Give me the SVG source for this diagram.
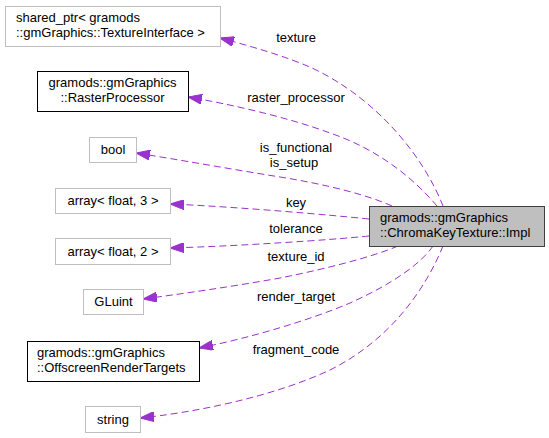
<svg xmlns="http://www.w3.org/2000/svg" width="549" height="438" viewBox="0 0 549 438">
<style>
text{font-family:"Liberation Sans",Arial,sans-serif;font-size:13px;fill:#000}
.g rect{fill:#fff;stroke:#bfbfbf;stroke-width:1}
.b rect{fill:#fff;stroke:#000;stroke-width:1}
.m rect{fill:#bfbfbf;stroke:#404040;stroke-width:1}
.c{text-anchor:middle}
.e path{fill:none;stroke:#9a32cd;stroke-width:1;stroke-dasharray:7,4}
</style>
<defs>
<marker id="ah" viewBox="0 0 14 10" refX="14" refY="5" markerWidth="14" markerHeight="10" markerUnits="userSpaceOnUse" orient="auto">
<path d="M0,0 L14,5 L0,10 z" fill="#9a32cd" stroke="#9a32cd"/>
</marker>
</defs>
<rect width="549" height="438" fill="#fff"/>
<g id="edges" class="e">
<path marker-end="url(#ah)" d="M443,206 C425,160 380,100 312,68 C285,56 250,46 220,38"/>
<path marker-end="url(#ah)" d="M437,206 C415,180 380,150 330,133 C290,118 230,104 188,97"/>
<path marker-end="url(#ah)" d="M392,206 C370,196 330,185 280,177 C230,169 175,159 136,153"/>
<path marker-end="url(#ah)" d="M369,219 C330,215 240,207 170,204"/>
<path marker-end="url(#ah)" d="M369,236 C330,240 240,246 170,248"/>
<path marker-end="url(#ah)" d="M398,246 C370,258 320,270 280,278 C230,287 180,294 143,299"/>
<path marker-end="url(#ah)" d="M433,246 C420,265 390,285 350,303 C310,320 250,338 199,348"/>
<path marker-end="url(#ah)" d="M443,246 C425,290 390,340 330,370 C270,398 190,413 140,418"/>
</g>
<g id="labels">
<text class="c" x="296" y="42">texture</text>
<text class="c" x="296" y="102">raster_processor</text>
<text class="c" x="296" y="152">is_functional</text>
<text class="c" x="294" y="167">is_setup</text>
<text class="c" x="296" y="207">key</text>
<text class="c" x="296" y="233">tolerance</text>
<text class="c" x="296" y="261">texture_id</text>
<text class="c" x="296" y="301">render_target</text>
<text class="c" x="296" y="354">fragment_code</text>
</g>
<g id="node_main" class="m">
<rect x="369.5" y="206.5" width="175" height="40"/>
<text x="380" y="222">gramods::gmGraphics</text>
<text x="380" y="237">::ChromaKeyTexture::Impl</text>
</g>
<g id="node_shared_ptr" class="g">
<rect x="5.5" y="6.5" width="215" height="40"/>
<text x="16" y="22">shared_ptr&lt; gramods</text>
<text x="16" y="37">::gmGraphics::TextureInterface &gt;</text>
</g>
<g id="node_raster" class="b">
<rect x="37.5" y="71.5" width="151" height="40"/>
<text class="c" x="112.5" y="87">gramods::gmGraphics</text>
<text class="c" x="112.5" y="102">::RasterProcessor</text>
</g>
<g id="node_bool" class="g">
<rect x="89.5" y="137.5" width="47" height="25"/>
<text class="c" x="113" y="154">bool</text>
</g>
<g id="node_array3" class="g">
<rect x="55.5" y="188.5" width="115" height="25"/>
<text class="c" x="113" y="205">array&lt; float, 3 &gt;</text>
</g>
<g id="node_array2" class="g">
<rect x="55.5" y="238.5" width="115" height="26"/>
<text class="c" x="113" y="256">array&lt; float, 2 &gt;</text>
</g>
<g id="node_gluint" class="g">
<rect x="83.5" y="289.5" width="60" height="25"/>
<text class="c" x="113.5" y="306">GLuint</text>
</g>
<g id="node_offscreen" class="b">
<rect x="27.5" y="341.5" width="172" height="40"/>
<text x="37" y="357">gramods::gmGraphics</text>
<text x="37" y="372">::OffscreenRenderTargets</text>
</g>
<g id="node_string" class="g">
<rect x="85.5" y="406.5" width="55" height="26"/>
<text class="c" x="113" y="424">string</text>
</g>
</svg>
